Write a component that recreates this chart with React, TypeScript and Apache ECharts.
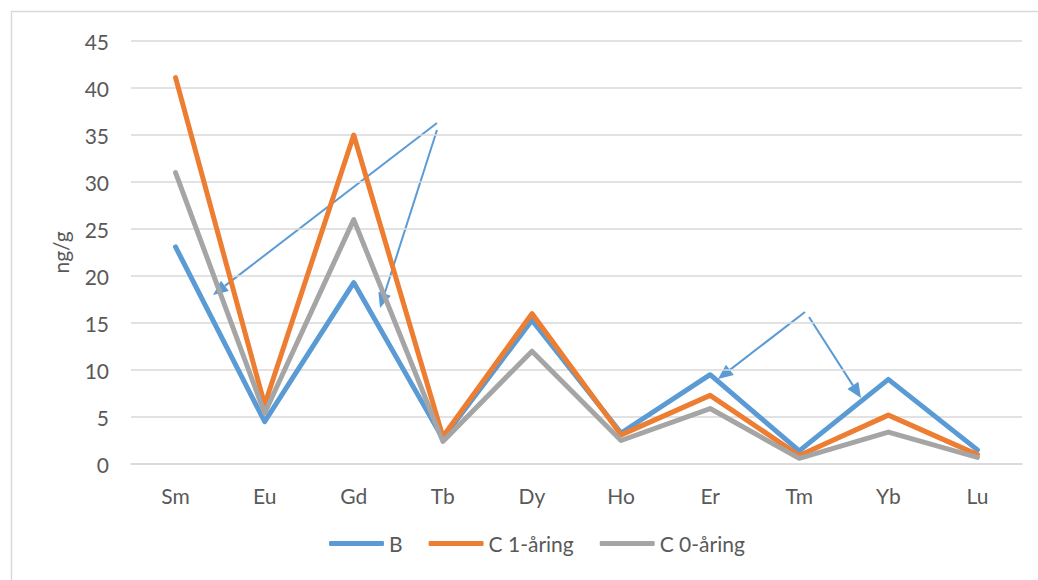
import React, { useEffect, useRef } from "react";
import * as echarts from "echarts";

const categories = ["Sm", "Eu", "Gd", "Tb", "Dy", "Ho", "Er", "Tm", "Yb", "Lu"];
const seriesB = [23.1, 4.5, 19.3, 2.7, 15.3, 3.3, 9.5, 1.4, 9.0, 1.5];
const seriesC1 = [41.1, 6.3, 35.0, 2.9, 16.0, 3.1, 7.3, 0.9, 5.2, 1.0];
const seriesC0 = [31.0, 5.4, 26.0, 2.4, 12.0, 2.5, 5.9, 0.6, 3.4, 0.7];
const seriesNames = ["B", "C 1-åring", "C 0-åring"];
const colors = ["#5B9BD5", "#ED7D31", "#A5A5A5"];

// annotation arrows (pixel positions: start -> tip)
const arrows = [
  [437, 123, 213, 295],
  [437, 130, 380, 308],
  [805, 312, 718, 379],
  [809, 317, 861, 398],
];

function arrowGraphic(a: number[]) {
  const [x1, y1, x2, y2] = a;
  const dx = x2 - x1;
  const dy = y2 - y1;
  const len = Math.sqrt(dx * dx + dy * dy);
  const ux = dx / len;
  const uy = dy / len;
  const headLen = 15;
  const headW = 6.5;
  const bx = x2 - ux * headLen;
  const by = y2 - uy * headLen;
  const px = -uy;
  const py = ux;
  return [
    {
      type: "line",
      shape: { x1, y1, x2: bx, y2: by },
      style: { stroke: "#5B9BD5", lineWidth: 2 },
      silent: true,
    },
    {
      type: "polygon",
      shape: {
        points: [
          [x2, y2],
          [bx + px * headW, by + py * headW],
          [bx - px * headW, by - py * headW],
        ],
      },
      style: { fill: "#5B9BD5" },
      silent: true,
    },
  ];
}

const FONT = "Lato, 'Open Sans', sans-serif";

export default function App() {
  const ref = useRef<HTMLDivElement>(null);
  useEffect(() => {
    if (!ref.current) return;
    const chart = echarts.init(ref.current, null, { renderer: "svg" });
    const data = [seriesB, seriesC1, seriesC0];
    const graphics: any[] = [
      {
        type: "rect",
        shape: { x: 11.5, y: 11.5, width: 1040, height: 600 },
        style: { fill: "none", stroke: "#d9d9d9", lineWidth: 1.5 },
        silent: true,
        z: -1,
      },
    ];
    arrows.forEach((a) => graphics.push(...arrowGraphic(a)));
    chart.setOption({
      animation: false,
      backgroundColor: "#ffffff",
      textStyle: { fontFamily: FONT },
      grid: { left: 131, right: 16, top: 41, bottom: 116, containLabel: false },
      legend: {
        data: seriesNames,
        bottom: 21,
        left: 324,
        icon: "roundRect",
        itemWidth: 55,
        itemHeight: 5,
        itemGap: 26,
        textStyle: { color: "#595959", fontSize: 21, fontFamily: FONT, padding: [0, 0, 0, 0] },
      },
      xAxis: {
        type: "category",
        data: categories,
        boundaryGap: true,
        axisLine: { show: true, lineStyle: { color: "#d9d9d9", width: 1.5 } },
        axisTick: { show: false },
        axisLabel: { color: "#595959", fontSize: 21, margin: 21, fontFamily: FONT },
      },
      yAxis: {
        type: "value",
        min: 0,
        max: 45,
        interval: 5,
        name: "ng/g",
        nameLocation: "middle",
        nameGap: 60,
        nameTextStyle: { color: "#595959", fontSize: 21, fontFamily: FONT },
        axisLine: { show: false },
        axisTick: { show: false },
        axisLabel: { color: "#595959", fontSize: 21, margin: 22, fontFamily: FONT },
        splitLine: { lineStyle: { color: "#d9d9d9", width: 1.5 } },
      },
      series: seriesNames.map((name, i) => ({
        name,
        type: "line",
        data: data[i],
        symbol: "none",
        color: colors[i],
        lineStyle: { color: colors[i], width: 5, join: "round", cap: "round" },
      })),
      graphic: graphics,
    });
    return () => chart.dispose();
  }, []);
  return (
    <div
      ref={ref}
      style={{ position: "fixed", left: 0, top: 0, width: 1038, height: 580 }}
    />
  );
}
